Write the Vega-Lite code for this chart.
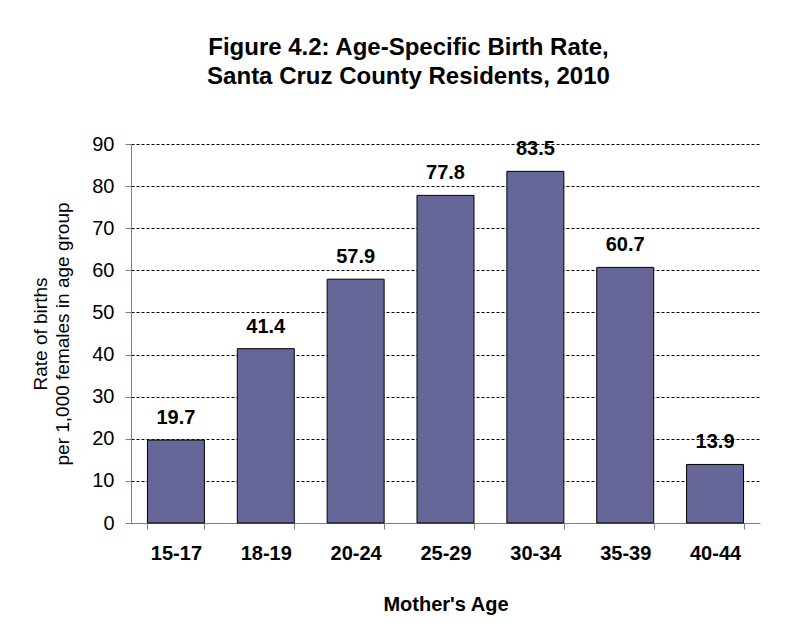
{
  "$schema": "https://vega.github.io/schema/vega-lite/v6.json",
  "width": 629,
  "height": 379,
  "autosize": {"type": "none"},
  "padding": {"left": 131, "top": 144, "right": 28, "bottom": 107},
  "background": "white",
  "title": {
    "text": ["Figure 4.2: Age-Specific Birth Rate,", "Santa Cruz County Residents, 2010"],
    "font": "Liberation Sans",
    "fontSize": 24,
    "fontWeight": "bold",
    "color": "black",
    "anchor": "middle",
    "lineHeight": 29,
    "offset": 45,
    "dx": -37
  },
  "data": {
    "values": [
      {"age": "15-17", "rate": 19.7},
      {"age": "18-19", "rate": 41.4},
      {"age": "20-24", "rate": 57.9},
      {"age": "25-29", "rate": 77.8},
      {"age": "30-34", "rate": 83.5},
      {"age": "35-39", "rate": 60.7},
      {"age": "40-44", "rate": 13.9}
    ]
  },
  "encoding": {
    "x": {
      "field": "age",
      "type": "nominal",
      "sort": null,
      "scale": {"paddingInner": 0.366, "paddingOuter": 0.183},
      "axis": {
        "title": "Mother's Age",
        "titleFont": "Liberation Sans",
        "titleFontSize": 20,
        "titleFontWeight": "bold",
        "titleColor": "black",
        "titlePadding": 31,
        "labelFont": "Liberation Sans",
        "labelFontSize": 20,
        "labelFontWeight": "bold",
        "labelColor": "black",
        "labelAngle": 0,
        "labelPadding": 14,
        "tickBand": "extent",
        "tickSize": 6,
        "tickColor": "#808080",
        "domainColor": "#808080",
        "grid": false
      }
    },
    "y": {
      "field": "rate",
      "type": "quantitative",
      "scale": {"domain": [0, 90], "nice": false},
      "axis": {
        "title": ["Rate of births", "per 1,000 females in age group"],
        "titleFont": "Liberation Sans",
        "titleFontSize": 19,
        "titleFontWeight": "normal",
        "titleColor": "black",
        "titleLineHeight": 22,
        "titlePadding": 19,
        "values": [0, 10, 20, 30, 40, 50, 60, 70, 80, 90],
        "labelFont": "Liberation Sans",
        "labelFontSize": 20,
        "labelColor": "black",
        "labelPadding": 11,
        "tickSize": 6,
        "tickColor": "#808080",
        "domainColor": "#808080",
        "grid": true,
        "gridColor": "black",
        "gridDash": [3, 2],
        "gridWidth": 1
      }
    }
  },
  "layer": [
    {
      "mark": {"type": "bar", "fill": "#666699", "stroke": "black", "strokeWidth": 1}
    },
    {
      "mark": {
        "type": "text",
        "font": "Liberation Sans",
        "fontSize": 20,
        "fontWeight": "bold",
        "color": "black",
        "baseline": "alphabetic",
        "dy": -16
      },
      "encoding": {
        "text": {"field": "rate", "type": "quantitative", "format": ".1f"}
      }
    }
  ],
  "config": {
    "view": {"stroke": null}
  }
}
